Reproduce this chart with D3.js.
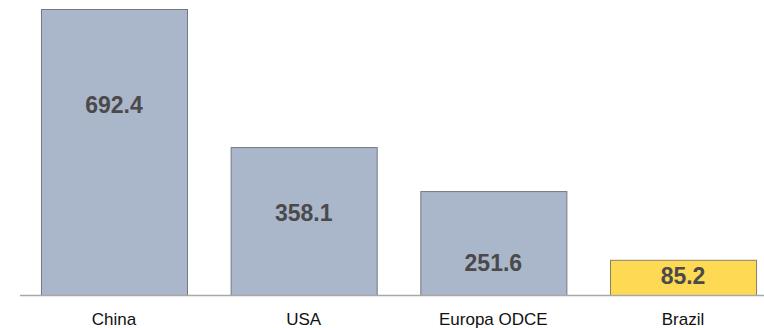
<!DOCTYPE html>
<html>
<head>
<meta charset="utf-8">
<script src="https://cdn.jsdelivr.net/npm/d3@7"></script>
<style>
  body { margin: 0; background: #fff; }
  text { font-family: "Liberation Sans", Arial, Helvetica, sans-serif; }
</style>
</head>
<body>
<div id="chart"></div>
<script>
// data
var categories = ["China", "USA", "Europa ODCE", "Brazil"];
var values = [692.4, 358.1, 251.6, 85.2];
var highlight = "Brazil";

// where the value label sits inside each bar (fraction of bar height from top)
var labelFrac = [0.335, 0.445, 0.69, 0.45];

var width = 764, height = 328;
var margin = { top: 9, right: 0, bottom: 33, left: 20 };

var svg = d3.select("#chart").append("svg")
    .attr("width", width)
    .attr("height", height);

// x scale
var xScale = d3.scaleBand()
    .domain(categories)
    .range([22, 764 + 11])
    .paddingInner(0.23)
    .paddingOuter(0.1);

// y scale
var yScale = d3.scaleLinear()
    .domain([0, d3.max(values)])
    .range([height - margin.bottom, margin.top]);

var data = categories.map(function(c, i) { return { cat: c, value: values[i], frac: labelFrac[i] }; });

// bars
svg.selectAll("rect.bar")
    .data(data)
    .enter().append("rect")
    .attr("class", "bar")
    .attr("x", function(d) { return xScale(d.cat) + 0.5; })
    .attr("y", function(d) { return yScale(d.value) + 0.5; })
    .attr("width", xScale.bandwidth())
    .attr("height", function(d) { return yScale(0) - yScale(d.value); })
    .attr("fill", function(d) { return d.cat == highlight ? "#fdd954" : "#aab6ca"; })
    .attr("stroke", function(d) { return d.cat == highlight ? "#8a8060" : "#737980"; })
    .attr("stroke-width", 1);

// baseline
svg.append("line")
    .attr("x1", margin.left)
    .attr("x2", width)
    .attr("y1", yScale(0) + 0.5)
    .attr("y2", yScale(0) + 0.5)
    .attr("stroke", "#a8a8a8")
    .attr("stroke-width", 1.5);

// value labels
svg.selectAll("text.val")
    .data(data)
    .enter().append("text")
    .attr("class", "val")
    .attr("text-anchor", "middle")
    .attr("x", function(d) { return xScale(d.cat) + xScale.bandwidth() / 2; })
    .attr("y", function(d) {
        var top = yScale(d.value);
        return top + (yScale(0) - top) * d.frac;
    })
    .attr("dy", "0.36em")
    .style("font-size", "23px")
    .style("font-weight", "bold")
    .style("fill", "#4a4a4a")
    .text(function(d) { return d3.format(".1f")(d.value); });

// category labels
svg.selectAll("text.cat")
    .data(data)
    .enter().append("text")
    .attr("class", "cat")
    .attr("text-anchor", "middle")
    .attr("x", function(d) { return xScale(d.cat) + xScale.bandwidth() / 2; })
    .attr("y", 325)
    .style("font-size", "17px")
    .style("fill", "#111")
    .text(function(d) { return d.cat; });
</script>
</body>
</html>
